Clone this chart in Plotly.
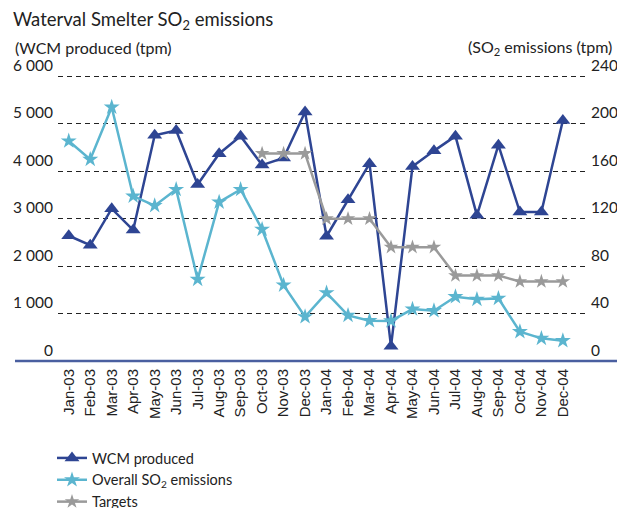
import plotly.graph_objects as go

months = ["Jan-03", "Feb-03", "Mar-03", "Apr-03", "May-03", "Jun-03", "Jul-03", "Aug-03",
          "Sep-03", "Oct-03", "Nov-03", "Dec-03", "Jan-04", "Feb-04", "Mar-04", "Apr-04",
          "May-04", "Jun-04", "Jul-04", "Aug-04", "Sep-04", "Oct-04", "Nov-04", "Dec-04"]

wcm_produced = [2640, 2440, 3210, 2760, 4760, 4860, 3720, 4370, 4740, 4130, 4280, 5250,
                2630, 3400, 4160, 310, 4100, 4430, 4740, 3070, 4550, 3140, 3140, 5070]

so2_emissions = [185.5, 170, 214, 139, 131, 144.6, 68.8, 134, 144.6, 111, 64, 37.3,
                 57.5, 38.5, 34, 33.8, 43.8, 42.4, 54.2, 52, 52.8, 24.7, 19.1, 17.1]

target_months = months[9:]
targets = [175, 175, 175, 120, 120, 120, 96, 96, 96, 72, 72, 72, 67, 67, 67]

left_ticks = [0, 1000, 2000, 3000, 4000, 5000, 6000]
right_ticks = [0, 40, 80, 120, 160, 200, 240]

DARK = "#2e4593"
CYAN = "#5bb5cf"
GREY = "#9a9a9a"
FONT = "Lato, 'Noto Sans', sans-serif"
TXT = "#222222"

W, H = 617, 508
L, R, T, B = 58, 29, 74, 147
PW, PH = W - L - R, H - T - B

fig = go.Figure()
fig.add_trace(go.Scatter(
    x=months, y=wcm_produced, name="WCM produced", mode="lines+markers",
    line=dict(color=DARK, width=2.5),
    marker=dict(symbol="triangle-up", size=13, color=DARK),
    yaxis="y"))
fig.add_trace(go.Scatter(
    x=months, y=so2_emissions, name="Overall SO<sub>2</sub> emissions", mode="lines+markers",
    line=dict(color=CYAN, width=2.5),
    marker=dict(symbol="star", size=12, color=CYAN),
    yaxis="y2"))
fig.add_trace(go.Scatter(
    x=target_months, y=targets, name="Targets", mode="lines+markers",
    line=dict(color=GREY, width=2.5),
    marker=dict(symbol="star", size=11, color=GREY),
    yaxis="y2"))

fig.update_layout(
    width=W, height=H,
    margin=dict(l=L, r=R, t=T, b=B, autoexpand=False),
    paper_bgcolor="white", plot_bgcolor="white",
    font=dict(family=FONT, size=15, color=TXT),
    separators=". ",
    showlegend=True,
    title=dict(text="Waterval Smelter SO<sub>2</sub> emissions",
               x=13 / W, xref="container", xanchor="left",
               y=1 - 20 / H, yref="container", yanchor="middle",
               font=dict(family=FONT, size=18.5, color=TXT)),
    xaxis=dict(
        type="category", range=[-0.5, 24.17], tickmode="array",
        tickvals=months, ticktext=months,
        tickangle=-90, showgrid=False, zeroline=False, showline=False,
        ticks="", ticklabelstandoff=4,
        tickfont=dict(family="'Liberation Sans', Arial, sans-serif", size=15, color=TXT),
    ),
    yaxis=dict(
        range=[0, 6050], tickvals=left_ticks, tickformat=",d",
        showgrid=True, gridcolor=TXT, gridwidth=1.2, griddash="5px,4px",
        zeroline=False, showline=False, ticks="",
        ticklabelposition="outside top", ticklabelstandoff=4,
        tickfont=dict(family=FONT, size=15.5, color=TXT),
    ),
    yaxis2=dict(
        range=[0, 242], tickvals=right_ticks, overlaying="y", side="right",
        showgrid=False, zeroline=False, showline=False, ticks="",
        ticklabelposition="outside top", ticklabelstandoff=2,
        tickfont=dict(family=FONT, size=15.5, color=TXT),
    ),
    legend=dict(
        xref="container", yref="container", x=52 / W, y=1 - 442 / H,
        xanchor="left", yanchor="top", orientation="v",
        font=dict(family=FONT, size=14.5, color=TXT),
        bgcolor="rgba(0,0,0,0)", tracegroupgap=0, itemwidth=30,
    ),
    annotations=[
        dict(text="(WCM produced (tpm)", xref="paper", yref="paper",
             x=(13 - L) / PW, y=(H - B - 47) / PH, xanchor="left", yanchor="middle",
             showarrow=False, font=dict(family=FONT, size=16, color=TXT)),
        dict(text="(SO<sub>2</sub> emissions (tpm)", xref="paper", yref="paper",
             x=(614 - L) / PW, y=(H - B - 47) / PH, xanchor="right", yanchor="middle",
             showarrow=False, font=dict(family=FONT, size=16, color=TXT)),
    ],
    shapes=[
        dict(type="line", xref="paper", yref="paper",
             x0=(15 - L) / PW, x1=(617 - L) / PW, y0=0, y1=0,
             line=dict(color="#4a5fa0", width=2.5), layer="above"),
    ],
)

fig.write_html("out.html", config={"displayModeBar": False},
               post_script="document.body.style.margin='0';document.body.style.overflow='hidden';")
